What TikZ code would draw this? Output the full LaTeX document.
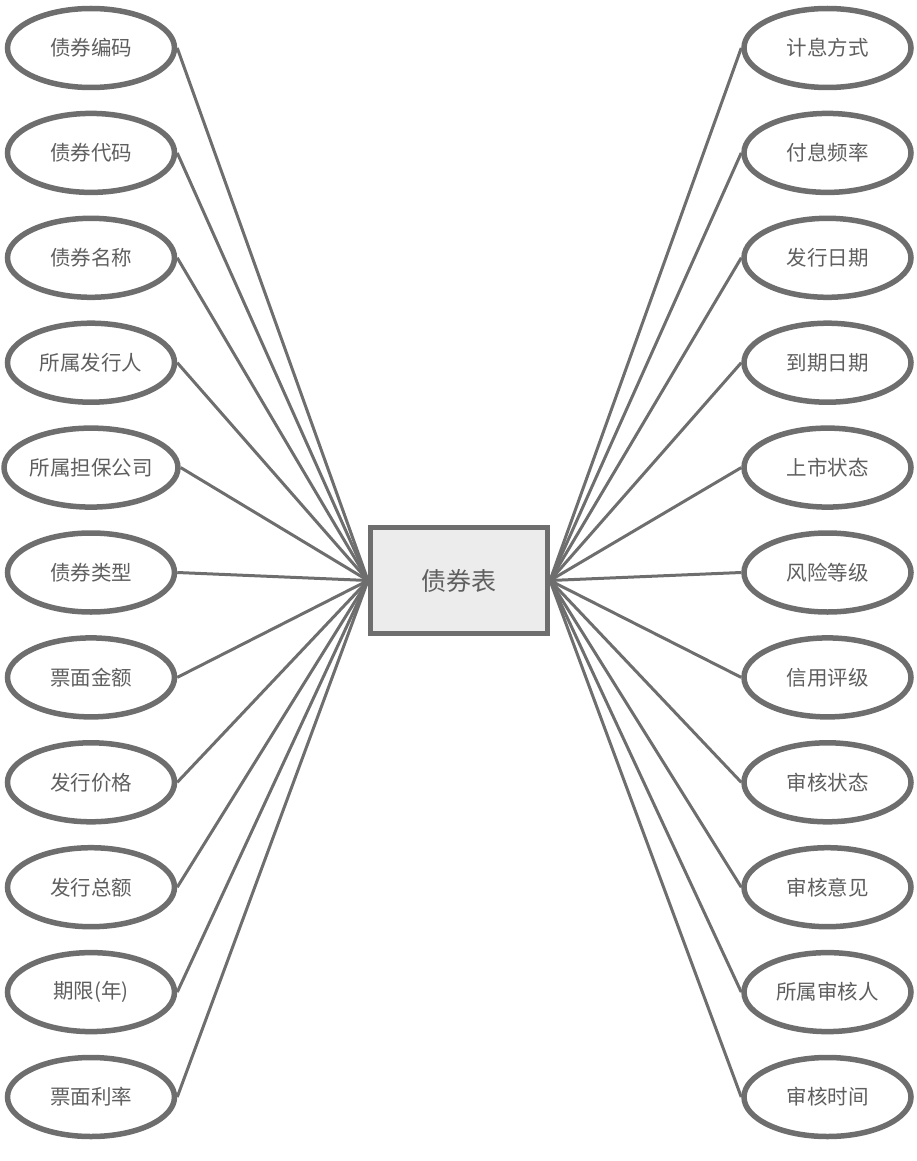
\documentclass[tikz,border=0pt]{standalone}
\usepackage{fontspec}
\setmainfont{Noto Sans CJK SC}
\usetikzlibrary{shapes,positioning}
\definecolor{lineGray}{RGB}{110,110,110}
\definecolor{textGray}{RGB}{95,95,95}
\definecolor{boxFill}{RGB}{236,236,236}

\begin{document}
\begin{tikzpicture}[
            x=1pt, y=-1pt,
            attr/.style={ellipse, draw=lineGray, line width=5.5pt, fill=white, minimum width=167pt, minimum height=79pt, inner sep=0pt, text=textGray, font=\fontsize{20.5}{24}\selectfont},
            entity/.style={rectangle, draw=lineGray, line width=5pt, fill=boxFill, minimum width=177pt, minimum height=106pt, text=textGray, font=\fontsize{25}{28}\selectfont},
            link/.style={draw=lineGray, line width=3pt}
        ]
            \useasboundingbox (0,0) rectangle (917,1161);
            \node[entity] (bond) at (459,580.5) {债券表};
            
            % left attributes
            \foreach \name [count=\i] in {债券编码,债券代码,债券名称,所属发行人,所属担保公司,债券类型,票面金额,发行价格,发行总额,期限(年),票面利率} {
                \node[attr] (left\i) at (91,{48+104.9*(\i-1)}) {\name};
                \draw[link] (left\i.east) -- (bond.west);
            }
            
            % right attributes
            \foreach \name [count=\i] in {计息方式,付息频率,发行日期,到期日期,上市状态,风险等级,信用评级,审核状态,审核意见,所属审核人,审核时间} {
                \node[attr] (right\i) at (827.5,{48+104.9*(\i-1)}) {\name};
                \draw[link] (right\i.west) -- (bond.east);
            }
        \end{tikzpicture}
\end{document}
